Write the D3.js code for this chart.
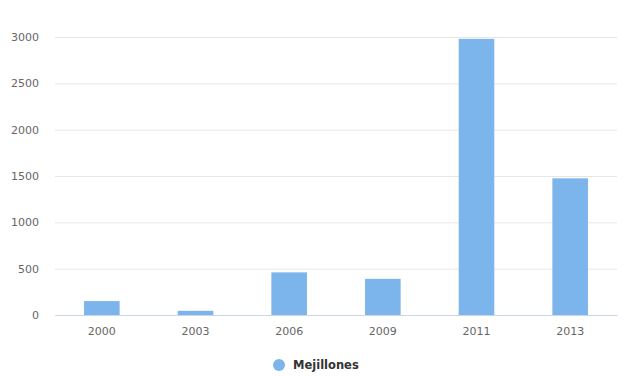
<!DOCTYPE html>
<html>
<head>
<meta charset="utf-8">
<script src="https://cdn.jsdelivr.net/npm/d3@7"></script>
<style>
  body { margin: 0; background: #fff; }
  text { font-family: "DejaVu Sans", sans-serif; }
</style>
</head>
<body>
<div id="chart"></div>
<script>
// Size of the canvas.
const WIDTH = 627;
const HEIGHT = 376;
const margin = { top: 37, right: 10, bottom: 61, left: 55 };

// The data.
const years = ["2000", "2003", "2006", "2009", "2011", "2013"];
const mejillones = [150, 45, 460, 390, 2980, 1475];
const yTicks = [0, 500, 1000, 1500, 2000, 2500, 3000];
const seriesName = "Mejillones";

const svg = d3.select("#chart")
  .append("svg")
  .attr("width", WIDTH)
  .attr("height", HEIGHT);

const x = d3.scaleBand()
  .domain(years)
  .range([margin.left, WIDTH - margin.right])
  .paddingInner(0.62)
  .paddingOuter(0.31);

const y = d3.scaleLinear()
  .domain([0, 3000])
  .range([HEIGHT - margin.bottom, margin.top]);

// Grid lines and y labels.
const yAxis = svg.append("g")
  .attr("transform", `translate(${margin.left},0)`)
  .call(d3.axisLeft(y).tickValues(yTicks).tickFormat(d3.format("d"))
    .tickSize(-(WIDTH - margin.left - margin.right)).tickPadding(16));
yAxis.select(".domain").remove();
yAxis.selectAll("line").attr("stroke", "#e6e6e6");
yAxis.selectAll("text").attr("fill", "#666").style("font-size", "11px");

// Bars.
svg.append("g")
  .selectAll("rect")
  .data(mejillones)
  .join("rect")
  .attr("x", (d, i) => x(years[i]))
  .attr("y", d => y(d))
  .attr("width", x.bandwidth())
  .attr("height", d => y(0) - y(d))
  .attr("fill", "#7cb5ec");

// X axis.
const xAxis = svg.append("g")
  .attr("transform", `translate(0,${HEIGHT - margin.bottom})`)
  .call(d3.axisBottom(x).tickSize(0).tickPadding(12));
xAxis.select(".domain").attr("stroke", "#ccd6eb");
xAxis.selectAll("text").attr("fill", "#666").style("font-size", "11px");

// Legend.
const legend = svg.append("g").attr("transform", "translate(279,365)");
legend.append("circle").attr("r", 6).attr("fill", "#7cb5ec");
legend.append("text")
  .attr("x", 14)
  .attr("dy", "0.35em")
  .attr("fill", "#333")
  .style("font-size", "11.5px")
  .style("font-weight", "bold")
  .text(seriesName);
</script>
</body>
</html>
